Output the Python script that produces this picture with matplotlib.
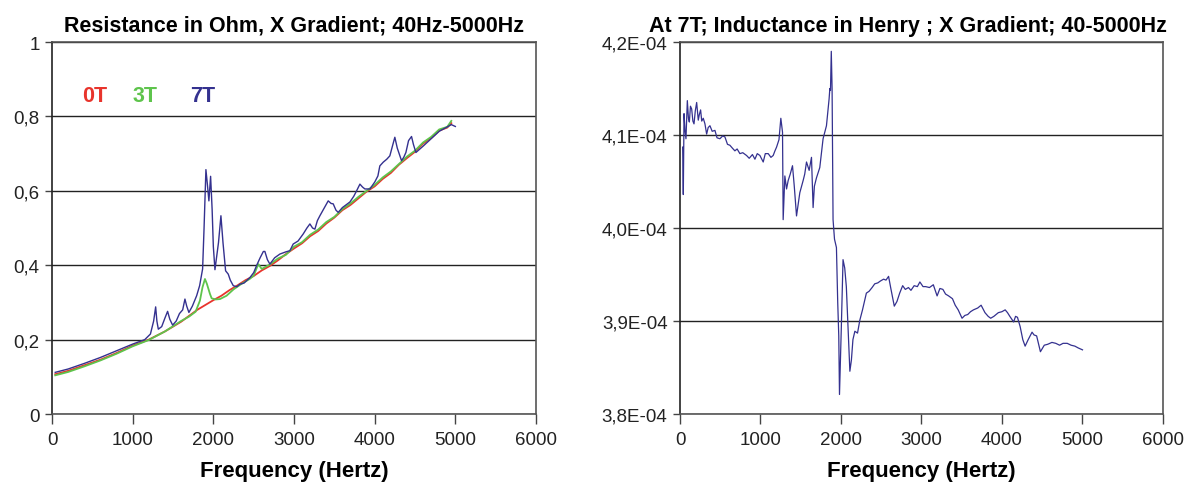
import matplotlib
matplotlib.use('Agg')
import matplotlib.pyplot as plt

plt.rcParams['font.family'] = ['Liberation Sans', 'DejaVu Sans']

# resistance, 0T (red)
freq_0t = [40, 200, 400, 600, 800, 1000, 1200, 1400, 1600, 1800, 2000, 2100, 2200, 2300,
           2400, 2500, 2600, 2700, 2800, 2900, 3000, 3100, 3200, 3300, 3400, 3500, 3600,
           3700, 3800, 3900, 4000, 4100, 4200, 4300, 4400, 4500, 4600, 4700, 4800, 4900, 4950]
res_0t = [0.107, 0.116, 0.131, 0.146, 0.164, 0.184, 0.200, 0.222, 0.248, 0.280, 0.306, 0.318,
          0.333, 0.346, 0.360, 0.371, 0.386, 0.398, 0.413, 0.430, 0.445, 0.459, 0.478, 0.492,
          0.512, 0.528, 0.548, 0.562, 0.580, 0.598, 0.612, 0.632, 0.648, 0.670, 0.688, 0.705,
          0.727, 0.742, 0.762, 0.770, 0.782]

# resistance, 3T (green)
freq_3t = [40, 200, 400, 600, 800, 1000, 1200, 1400, 1600, 1700, 1780, 1834, 1865, 1896, 1920,
           1958, 1979, 2030, 2082, 2164, 2250, 2350, 2450, 2500, 2557, 2600, 2700, 2800, 2900,
           3000, 3100, 3200, 3300, 3400, 3500, 3600, 3700, 3800, 3900, 4000, 4100, 4200, 4300,
           4400, 4500, 4600, 4700, 4800, 4900, 4950]
res_3t = [0.104, 0.113, 0.128, 0.144, 0.162, 0.182, 0.199, 0.222, 0.250, 0.262, 0.275, 0.305,
          0.340, 0.363, 0.350, 0.323, 0.311, 0.308, 0.309, 0.318, 0.335, 0.350, 0.363, 0.372,
          0.403, 0.390, 0.402, 0.418, 0.428, 0.450, 0.462, 0.482, 0.496, 0.516, 0.530, 0.551,
          0.566, 0.584, 0.600, 0.616, 0.636, 0.652, 0.672, 0.692, 0.708, 0.730, 0.745, 0.765,
          0.772, 0.788]

# resistance, 7T (blue)
freq_7t = [40, 200, 400, 600, 800, 1000, 1150, 1220, 1260, 1285, 1300, 1318, 1360, 1400, 1433,
           1460, 1495, 1540, 1580, 1620, 1648, 1670, 1697, 1740, 1793, 1830, 1867, 1885, 1908,
           1925, 1945, 1966, 1985, 2000, 2020, 2064, 2094, 2120, 2152, 2185, 2210, 2247, 2290,
           2330, 2380, 2454, 2500, 2536, 2580, 2620, 2639, 2670, 2701, 2760, 2825, 2900, 2949,
           2990, 3050, 3114, 3160, 3197, 3230, 3259, 3290, 3321, 3370, 3424, 3460, 3486, 3520,
           3548, 3600, 3631, 3693, 3740, 3776, 3817, 3850, 3879, 3941, 4002, 4040, 4064, 4106,
           4150, 4188, 4220, 4250, 4280, 4333, 4360, 4387, 4420, 4457, 4480, 4511, 4600, 4700,
           4800, 4900, 4950, 5000]
res_7t = [0.112, 0.121, 0.136, 0.152, 0.170, 0.188, 0.200, 0.215, 0.250, 0.288, 0.250, 0.228,
          0.235, 0.258, 0.276, 0.255, 0.239, 0.250, 0.270, 0.280, 0.309, 0.290, 0.273, 0.290,
          0.318, 0.345, 0.390, 0.500, 0.657, 0.620, 0.573, 0.639, 0.550, 0.450, 0.388, 0.461,
          0.533, 0.460, 0.385, 0.376, 0.360, 0.345, 0.342, 0.349, 0.352, 0.367, 0.380, 0.399,
          0.420, 0.437, 0.437, 0.415, 0.403, 0.420, 0.430, 0.436, 0.439, 0.457, 0.465, 0.484,
          0.500, 0.511, 0.500, 0.497, 0.520, 0.533, 0.552, 0.573, 0.566, 0.565, 0.548, 0.542,
          0.555, 0.560, 0.570, 0.585, 0.600, 0.618, 0.610, 0.605, 0.605, 0.624, 0.640, 0.667,
          0.677, 0.685, 0.694, 0.720, 0.744, 0.715, 0.681, 0.690, 0.703, 0.735, 0.746, 0.725,
          0.703, 0.720, 0.740, 0.760, 0.772, 0.778, 0.773]

# inductance at 7T, in units of 1E-4 H
freq_l = [33, 41, 50, 62, 74, 91, 105, 116, 130, 145, 160, 174, 190, 207, 227, 240, 256, 270,
          289, 310, 331, 350, 372, 400, 434, 460, 496, 530, 558, 590, 620, 650, 682, 710, 744,
          780, 827, 860, 900, 931, 960, 993, 1034, 1060, 1096, 1130, 1158, 1180, 1200, 1230,
          1253, 1274, 1282, 1303, 1324, 1344, 1370, 1398, 1420, 1448, 1489, 1530, 1550, 1572,
          1605, 1634, 1654, 1670, 1696, 1737, 1778, 1820, 1853, 1862, 1870, 1880, 1890, 1902,
          1920, 1944, 1960, 1973, 1982, 2005, 2026, 2047, 2067, 2090, 2111, 2130, 2149, 2173,
          2206, 2235, 2268, 2316, 2350, 2387, 2420, 2458, 2490, 2530, 2560, 2592, 2620, 2663,
          2696, 2730, 2767, 2800, 2839, 2870, 2910, 2950, 2981, 3020, 3053, 3100, 3148, 3195,
          3230, 3267, 3300, 3338, 3386, 3420, 3457, 3505, 3540, 3576, 3610, 3647, 3700, 3742,
          3790, 3830, 3861, 3900, 3956, 4000, 4041, 4070, 4099, 4146, 4170, 4194, 4227, 4260,
          4289, 4327, 4375, 4400, 4432, 4479, 4527, 4570, 4622, 4670, 4717, 4760, 4812, 4860,
          4907, 4950, 5002]
ind_7t = [4.087, 4.036, 4.123, 4.105, 4.096, 4.137, 4.118, 4.114, 4.131, 4.128, 4.115, 4.112,
          4.126, 4.135, 4.116, 4.122, 4.127, 4.115, 4.118, 4.112, 4.101, 4.108, 4.110, 4.104,
          4.105, 4.097, 4.096, 4.099, 4.098, 4.090, 4.089, 4.086, 4.083, 4.085, 4.080, 4.081,
          4.078, 4.075, 4.079, 4.074, 4.080, 4.078, 4.071, 4.080, 4.080, 4.076, 4.078, 4.083,
          4.087, 4.095, 4.118, 4.103, 4.009, 4.056, 4.042, 4.051, 4.058, 4.067, 4.045, 4.013,
          4.038, 4.051, 4.058, 4.071, 4.062, 4.076, 4.022, 4.045, 4.054, 4.065, 4.096, 4.110,
          4.139, 4.150, 4.148, 4.190, 4.150, 4.009, 3.988, 3.979, 3.920, 3.884, 3.821, 3.894,
          3.966, 3.957, 3.937, 3.890, 3.846, 3.858, 3.880, 3.889, 3.887, 3.901, 3.912, 3.930,
          3.932, 3.936, 3.940, 3.941, 3.943, 3.945, 3.944, 3.948, 3.935, 3.916, 3.921, 3.930,
          3.938, 3.934, 3.936, 3.933, 3.938, 3.937, 3.942, 3.937, 3.937, 3.936, 3.939, 3.927,
          3.935, 3.934, 3.929, 3.927, 3.924, 3.917, 3.912, 3.903, 3.906, 3.907, 3.910, 3.912,
          3.914, 3.917, 3.909, 3.905, 3.903, 3.905, 3.909, 3.910, 3.912, 3.909, 3.905, 3.899,
          3.905, 3.904, 3.894, 3.880, 3.873, 3.880, 3.888, 3.885, 3.884, 3.867, 3.874, 3.875,
          3.877, 3.876, 3.874, 3.876, 3.876, 3.874, 3.873, 3.871, 3.869]

x_ticks = [0, 1000, 2000, 3000, 4000, 5000, 6000]
res_ticks = [0, 0.2, 0.4, 0.6, 0.8, 1.0]
res_labels = ['0', '0,2', '0,4', '0,6', '0,8', '1']
ind_ticks = [3.8, 3.9, 4.0, 4.1, 4.2]
ind_labels = ['3,8E-04', '3,9E-04', '4,0E-04', '4,1E-04', '4,2E-04']

RED = '#e8342c'
GREEN = '#5ec44c'
BLUE = '#34318f'


def style_axes(ax):
    for sp in ax.spines.values():
        sp.set_color('#555555')
        sp.set_linewidth(1.2)
    ax.spines['left'].set_color('#222222')
    ax.yaxis.grid(True, color='#222222', linewidth=1.0)
    ax.set_axisbelow(True)
    ax.tick_params(direction='out', width=1, color='#444444',
                   labelsize=13.5, colors='#222222')
    ax.tick_params(axis='x', length=7, pad=5)
    ax.tick_params(axis='y', length=5, pad=4)
    ax.set_xlim(0, 6000)
    ax.set_xticks(x_ticks)
    ax.set_xlabel('Frequency (Hertz)', fontsize=16, fontweight='bold', labelpad=9)


def main():
    fig = plt.figure(figsize=(12.01, 4.89), dpi=100)

    ax = fig.add_axes([0.0433, 0.1513, 0.403, 0.7607])
    ax.plot(freq_0t, res_0t, color=RED, lw=1.3)
    ax.plot(freq_3t, res_3t, color=GREEN, lw=1.3)
    ax.plot(freq_7t, res_7t, color=BLUE, lw=1.0)
    style_axes(ax)
    ax.set_ylim(0, 1)
    ax.set_yticks(res_ticks)
    ax.set_yticklabels(res_labels)
    ax.set_title('Resistance in Ohm, X Gradient; 40Hz-5000Hz', fontsize=15.5,
                 fontweight='bold', pad=8)
    ax.text(0.063, 0.841, '0T', color=RED, fontsize=15.5, fontweight='bold', transform=ax.transAxes)
    ax.text(0.167, 0.841, '3T', color=GREEN, fontsize=15.5, fontweight='bold', transform=ax.transAxes)
    ax.text(0.285, 0.841, '7T', color=BLUE, fontsize=15.5, fontweight='bold', transform=ax.transAxes)

    ax2 = fig.add_axes([0.5662, 0.1513, 0.402, 0.7607])
    ax2.plot(freq_l, ind_7t, color=BLUE, lw=0.9)
    style_axes(ax2)
    ax2.set_ylim(3.8, 4.2)
    ax2.set_yticks(ind_ticks)
    ax2.set_yticklabels(ind_labels)
    ax2.set_title('At 7T; Inductance in Henry ; X Gradient; 40-5000Hz', fontsize=15.5,
                  fontweight='bold', pad=8, x=0.473)

    fig.savefig('out.png', dpi=100)


if __name__ == '__main__':
    main()
